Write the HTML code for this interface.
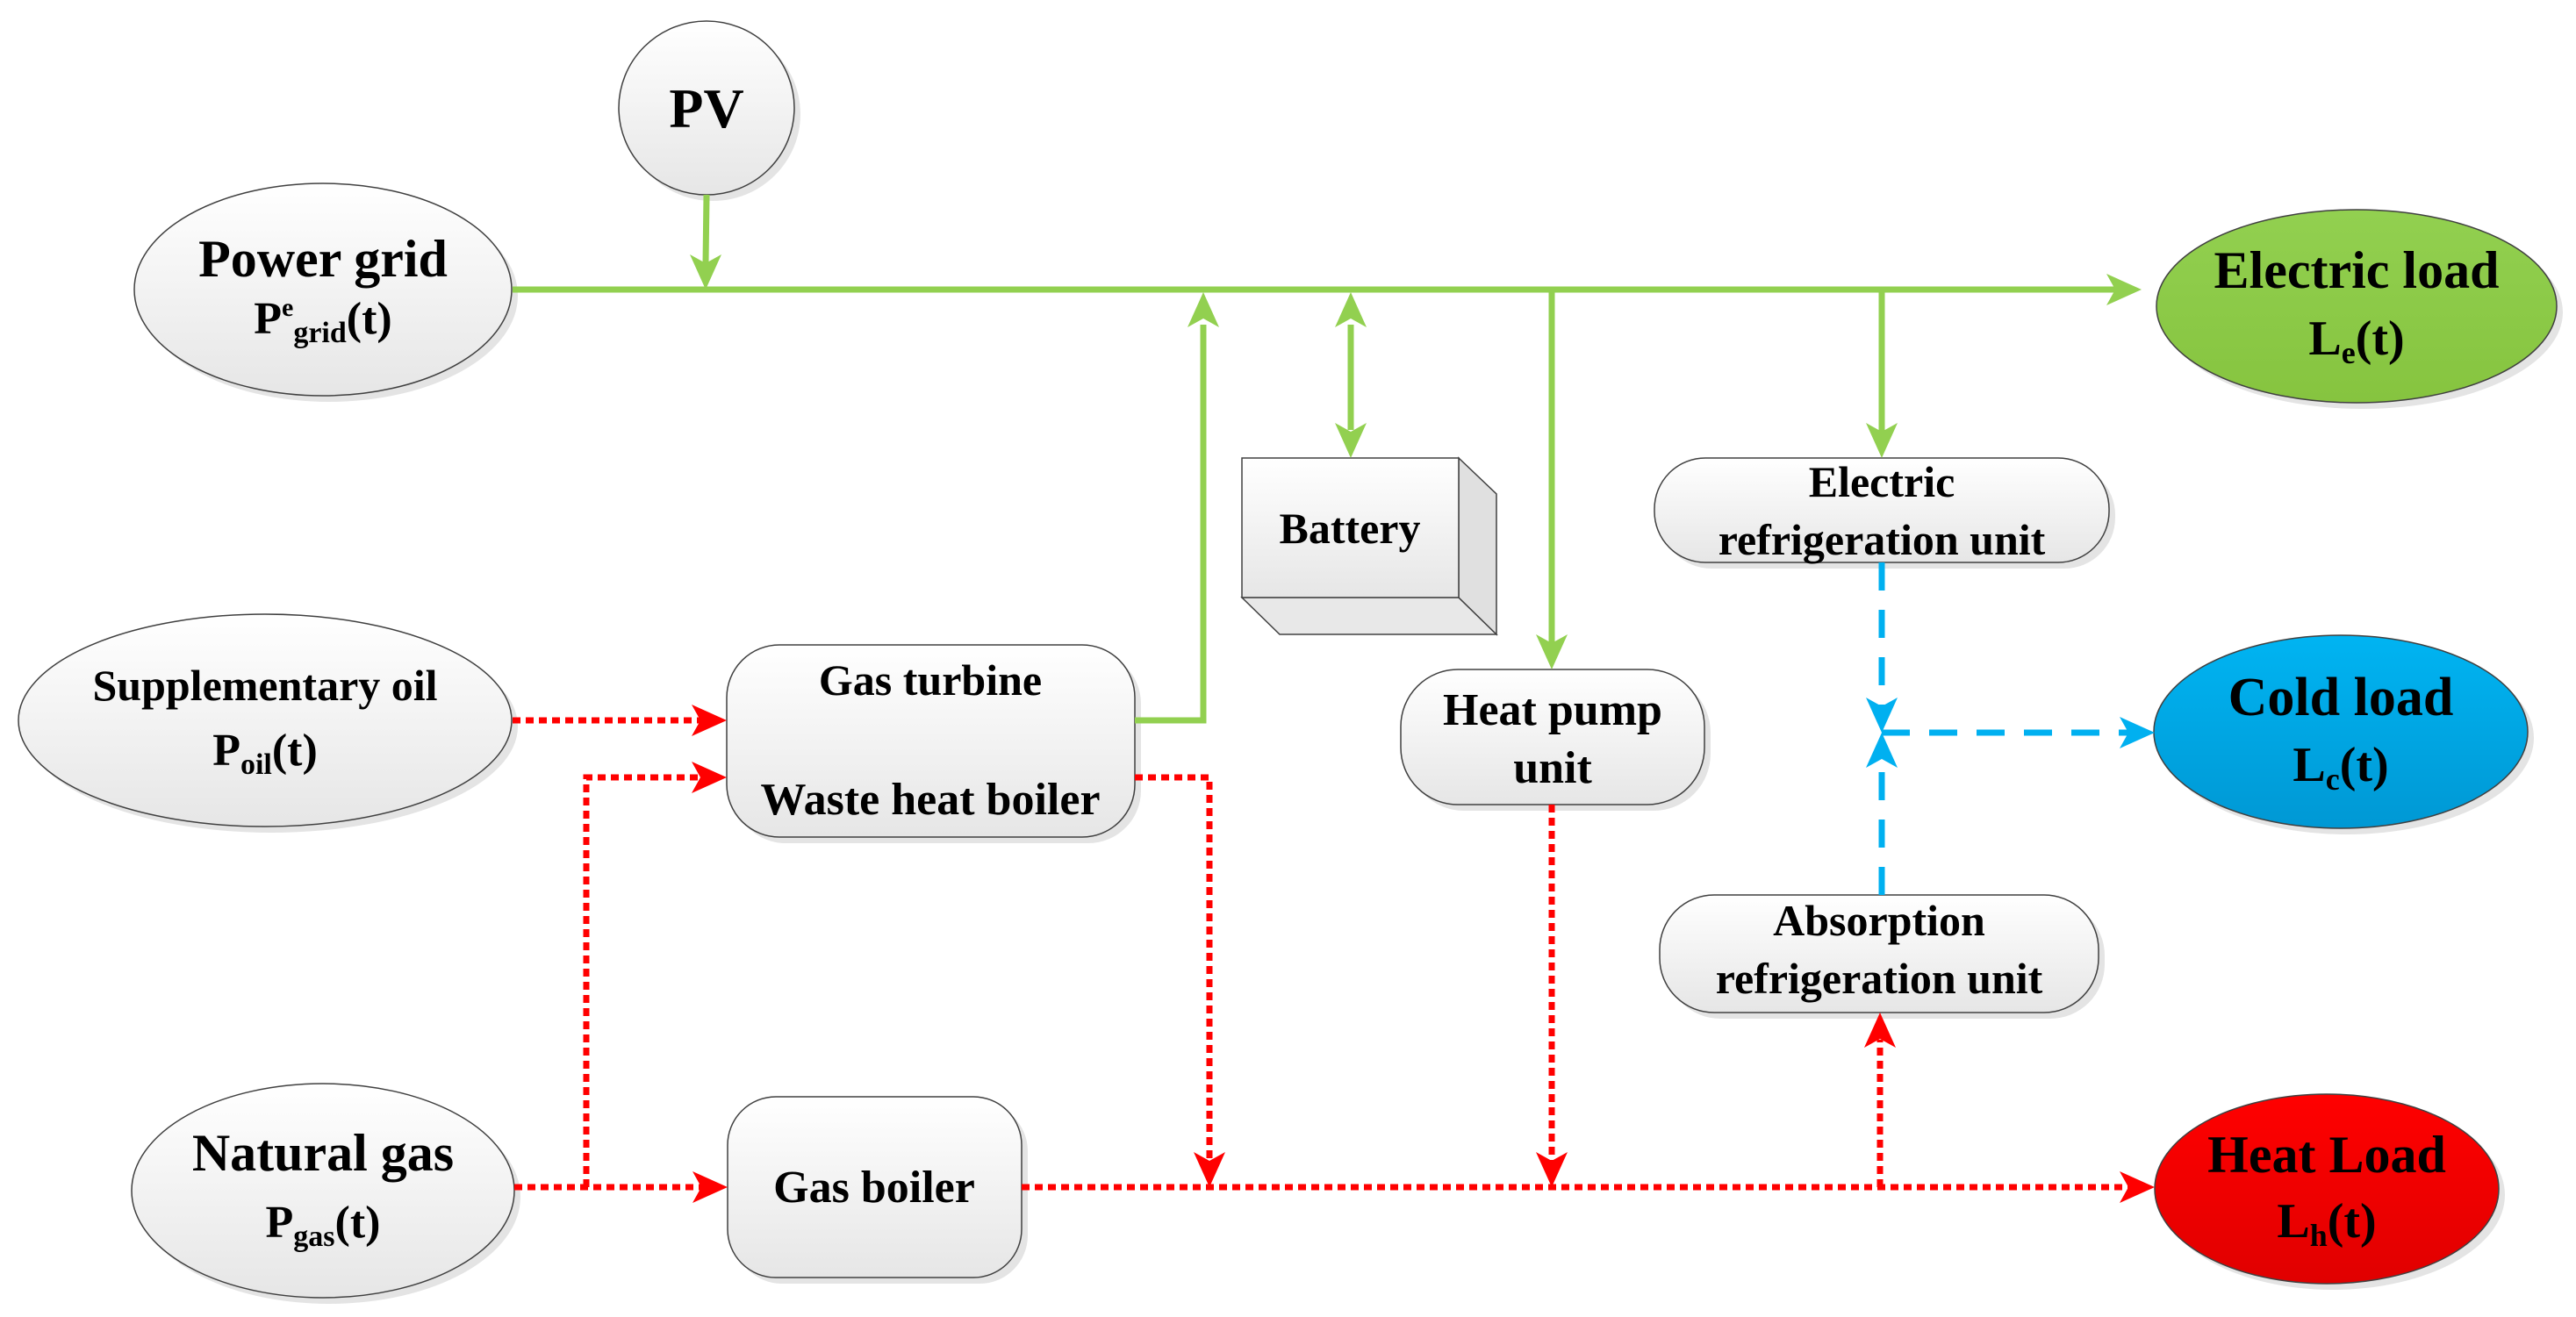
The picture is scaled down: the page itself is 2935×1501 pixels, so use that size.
<!DOCTYPE html>
<html><head><meta charset="utf-8"><style>
html,body{margin:0;padding:0;background:#fff;}
svg{display:block;}
svg text{font-family:"Liberation Serif","DejaVu Serif",serif !important;font-weight:bold;fill:#000;text-anchor:middle;}
</style></head><body>
<svg width="2935" height="1501" viewBox="0 0 2935 1501" xmlns="http://www.w3.org/2000/svg" font-family="Liberation Serif, DejaVu Serif, serif">
<defs>
<linearGradient id="gw" x1="0" y1="0" x2="0" y2="1"><stop offset="0" stop-color="#ffffff"/><stop offset="1" stop-color="#e6e6e6"/></linearGradient>
<linearGradient id="gg" x1="0" y1="0" x2="0" y2="1"><stop offset="0" stop-color="#92d050"/><stop offset="1" stop-color="#86c43f"/></linearGradient>
<linearGradient id="gb" x1="0" y1="0" x2="0" y2="1"><stop offset="0" stop-color="#00b4f2"/><stop offset="1" stop-color="#0098d4"/></linearGradient>
<linearGradient id="gr" x1="0" y1="0" x2="0" y2="1"><stop offset="0" stop-color="#ff0000"/><stop offset="1" stop-color="#e00000"/></linearGradient>
</defs>
<g fill="#e4e4e4" stroke="none">
<ellipse cx="812" cy="130" rx="100" ry="99"/>
<ellipse cx="375" cy="337" rx="215" ry="121"/>
<ellipse cx="309" cy="828" rx="281" ry="121"/>
<ellipse cx="375" cy="1364" rx="218" ry="122"/>
<ellipse cx="2692" cy="356" rx="228" ry="110"/>
<ellipse cx="2674" cy="841" rx="213" ry="110"/>
<ellipse cx="2658" cy="1362" rx="196" ry="108"/>
<rect x="835" y="742" width="465" height="219" rx="60"/>
<rect x="836" y="1257" width="335" height="206" rx="55"/>
<rect x="1603" y="770" width="346" height="154" rx="65"/>
<rect x="1892" y="529" width="518" height="119" rx="58"/>
<rect x="1898" y="1027" width="500" height="134" rx="62"/>
</g>
<g stroke="#404040" stroke-width="1.5">
<ellipse cx="805" cy="123" rx="100" ry="99" fill="url(#gw)"/>
<ellipse cx="368" cy="330" rx="215" ry="121" fill="url(#gw)"/>
<ellipse cx="302" cy="821" rx="281" ry="121" fill="url(#gw)"/>
<ellipse cx="368" cy="1357" rx="218" ry="122" fill="url(#gw)"/>
<ellipse cx="2685" cy="349" rx="228" ry="110" fill="url(#gg)"/>
<ellipse cx="2667" cy="834" rx="213" ry="110" fill="url(#gb)"/>
<ellipse cx="2651" cy="1355" rx="196" ry="108" fill="url(#gr)"/>
<rect x="828" y="735" width="465" height="219" rx="60" fill="url(#gw)"/>
<rect x="829" y="1250" width="335" height="206" rx="55" fill="url(#gw)"/>
<rect x="1596" y="763" width="346" height="154" rx="65" fill="url(#gw)"/>
<rect x="1885" y="522" width="518" height="119" rx="58" fill="url(#gw)"/>
<rect x="1891" y="1020" width="500" height="134" rx="62" fill="url(#gw)"/>
<polygon points="1415,681 1662,681 1705,723 1458,723" fill="#e8e8e8"/>
<polygon points="1662,522 1705,563 1705,723 1662,681" fill="#e0e0e0"/>
<rect x="1415" y="522" width="247" height="159" fill="url(#gw)"/>
</g>
<g stroke="#92d050" stroke-width="7" fill="none">
<line x1="584" y1="330" x2="2410" y2="330"/>
<line x1="805" y1="222" x2="804" y2="300"/>
<polyline points="1293,821 1371,821 1371,370"/>
<line x1="1539" y1="370" x2="1539" y2="490"/>
<line x1="1768" y1="330" x2="1768" y2="735"/>
<line x1="2144" y1="330" x2="2144" y2="495"/>
</g>
<g fill="#92d050">
<polygon points="804,330 786,290 804,300 822,290"/>
<polygon points="1371,333 1353,373 1371,363 1389,373"/>
<polygon points="1539,333 1521,373 1539,363 1557,373"/>
<polygon points="1539,522 1521,482 1539,492 1557,482"/>
<polygon points="1768,763 1750,723 1768,733 1786,723"/>
<polygon points="2144,522 2126,482 2144,492 2162,482"/>
<polygon points="2440,330 2400,312 2410,330 2400,348"/>
</g>
<g stroke="#ff0000" stroke-width="7" fill="none" stroke-dasharray="9,6">
<line x1="584" y1="821" x2="800" y2="821"/>
<polyline points="668,1353 668,886 800,886"/>
<polyline points="1293,886 1378,886 1378,1325"/>
<line x1="586" y1="1353" x2="800" y2="1353"/>
<line x1="1164" y1="1353" x2="2425" y2="1353"/>
<line x1="1768" y1="917" x2="1768" y2="1325"/>
<line x1="2142" y1="1353" x2="2142" y2="1185"/>
</g>
<g fill="#ff0000">
<polygon points="828,821 788,803 798,821 788,839"/>
<polygon points="828,886 788,868 798,886 788,904"/>
<polygon points="829,1353 789,1335 799,1353 789,1371"/>
<polygon points="1378,1353 1360,1313 1378,1323 1396,1313"/>
<polygon points="1768,1353 1750,1313 1768,1323 1786,1313"/>
<polygon points="2142,1154 2124,1194 2142,1184 2160,1194"/>
<polygon points="2455,1353 2415,1335 2425,1353 2415,1371"/>
</g>
<g stroke="#00b0f0" stroke-width="7" fill="none" stroke-dasharray="32,22">
<line x1="2144" y1="641" x2="2144" y2="805"/>
<line x1="2144" y1="1020" x2="2144" y2="865"/>
<line x1="2144" y1="835" x2="2425" y2="835"/>
</g>
<g fill="#00b0f0">
<polygon points="2144,835 2126,795 2144,805 2162,795"/>
<polygon points="2144,835 2126,875 2144,865 2162,875"/>
<polygon points="2455,835 2415,817 2425,835 2415,853"/>
</g>
<g font-family="Liberation Serif, DejaVu Serif, serif" font-weight="bold" text-anchor="middle">
<text x="805" y="145" font-size="64">PV</text>
<text x="368" y="315" font-size="60">Power grid</text>
<text x="368" y="380" font-size="52">P<tspan font-size="30" dy="-20">e</tspan><tspan font-size="34" dy="30">grid</tspan><tspan dy="-10">(t)</tspan></text>
<text x="302" y="798" font-size="50">Supplementary oil</text>
<text x="302" y="872" font-size="52">P<tspan font-size="34" dy="10">oil</tspan><tspan dy="-10">(t)</tspan></text>
<text x="368" y="1334" font-size="60">Natural gas</text>
<text x="368" y="1410" font-size="52">P<tspan font-size="34" dy="10">gas</tspan><tspan dy="-10">(t)</tspan></text>
<text x="1060" y="792" font-size="50">Gas turbine</text>
<text x="1060" y="928" font-size="52">Waste heat boiler</text>
<text x="996" y="1370" font-size="52">Gas boiler</text>
<text x="1538" y="619" font-size="50">Battery</text>
<text x="1769" y="826" font-size="52">Heat pump</text>
<text x="1769" y="892" font-size="52">unit</text>
<text x="2144" y="566" font-size="50">Electric</text>
<text x="2144" y="632" font-size="50">refrigeration unit</text>
<text x="2141" y="1066" font-size="50">Absorption</text>
<text x="2141" y="1132" font-size="50">refrigeration unit</text>
<text x="2685" y="328" font-size="60">Electric load</text>
<text x="2685" y="404" font-size="56">L<tspan font-size="36" dy="10">e</tspan><tspan dy="-10">(t)</tspan></text>
<text x="2667" y="815" font-size="62">Cold load</text>
<text x="2667" y="890" font-size="56">L<tspan font-size="36" dy="10">c</tspan><tspan dy="-10">(t)</tspan></text>
<text x="2651" y="1336" font-size="60">Heat Load</text>
<text x="2651" y="1410" font-size="56">L<tspan font-size="36" dy="10">h</tspan><tspan dy="-10">(t)</tspan></text>
</g>
</svg>
</body></html>
